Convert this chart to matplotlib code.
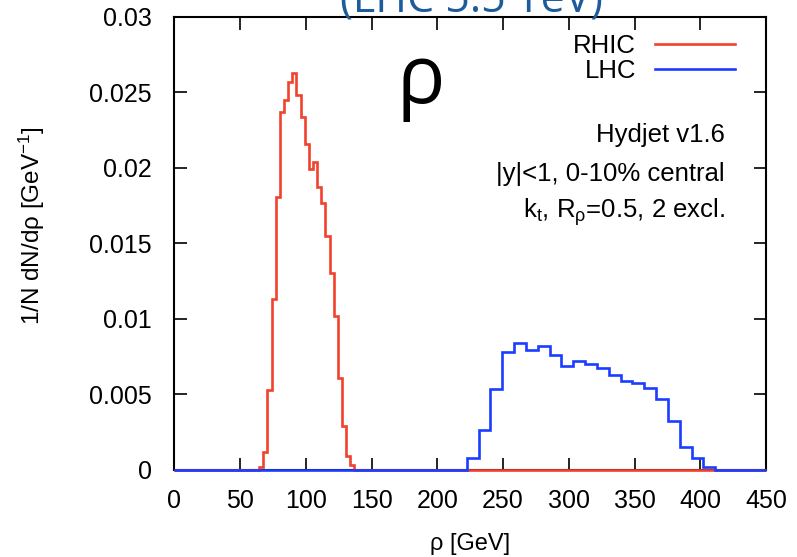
import matplotlib
matplotlib.use("Agg")
import matplotlib.pyplot as plt
import numpy as np

plt.rcParams["font.family"] = ["Liberation Sans", "DejaVu Sans"]
plt.rcParams["mathtext.fontset"] = "custom"
plt.rcParams["mathtext.rm"] = "Liberation Sans"
plt.rcParams["mathtext.it"] = "Liberation Sans:italic"

# RHIC histogram (bins)
rhic_start = 64.5
rhic_width = 3.15
rhic_vals = [0.0002, 0.0012, 0.0053, 0.0113, 0.0181, 0.0237, 0.0245, 0.0257,
             0.0263, 0.0248, 0.0234, 0.0216, 0.0199, 0.0204, 0.0187, 0.0177,
             0.0155, 0.0130, 0.0102, 0.0061, 0.0029, 0.0009, 0.0003]

# LHC histogram
lhc_start = 222.3
lhc_width = 9.0
lhc_vals = [0.00075, 0.00263, 0.00534, 0.00777, 0.0084, 0.00795, 0.00822,
            0.00762, 0.00689, 0.00718, 0.00702, 0.00673, 0.00629, 0.00584,
            0.00574, 0.0054, 0.00467, 0.00323, 0.00152, 0.00075, 0.0002]

x_ticks = [0, 50, 100, 150, 200, 250, 300, 350, 400, 450]
y_ticks = [0, 0.005, 0.01, 0.015, 0.02, 0.025, 0.03]
y_labels = ["0", "0.005", "0.01", "0.015", "0.02", "0.025", "0.03"]

red = "#f2412d"
blue = "#1b3dff"


def full_range(start, width, vals, lo=0, hi=450):
    edges = start + width * np.arange(len(vals) + 1)
    edges = np.concatenate([[lo], edges, [hi]])
    v = np.concatenate([[0], vals, [0]])
    return v, edges


fig = plt.figure(figsize=(7.97, 5.57), dpi=100)
ax = fig.add_axes([0.2186, 0.1569, 0.7428, 0.8126])

v, e = full_range(rhic_start, rhic_width, rhic_vals)
ax.stairs(v, e, color=red, lw=1.9, label="RHIC", zorder=3, clip_on=False)
v, e = full_range(lhc_start, lhc_width, lhc_vals)
ax.stairs(v, e, color=blue, lw=1.9, label="LHC", zorder=3, clip_on=False)

ax.set_xlim(0, 450)
ax.set_ylim(0, 0.03)
ax.set_xticks(x_ticks)
ax.set_yticks(y_ticks)
ax.set_yticklabels(y_labels)
ax.tick_params(direction="in", length=9, width=1.2, top=True, right=True,
               labelsize=18)
ax.tick_params(axis="y", pad=16)
ax.tick_params(axis="x", pad=14)
for s in ax.spines.values():
    s.set_linewidth(1.5)

ax.set_xlabel("ρ [GeV]", fontsize=17)
ax.set_ylabel("1/N dN/dρ [GeV$^{-1}$]", fontsize=17.5)
ax.xaxis.set_label_coords(0.5, -0.14)
ax.yaxis.set_label_coords(-0.215, 0.538)

ax.legend(loc="upper right", bbox_to_anchor=(0.947, 0.962), frameon=False,
          markerfirst=False, fontsize=18.5, handlelength=3.1, handletextpad=0.74,
          labelspacing=0.05, borderpad=0, borderaxespad=0)

ax.text(0.93, 0.723, "Hydjet v1.6", transform=ax.transAxes, ha="right",
        va="baseline", fontsize=18.5)
ax.text(0.93, 0.637, "|y|<1, 0-10% central", transform=ax.transAxes,
        ha="right", va="baseline", fontsize=18.5)
ax.text(0.93, 0.557, r"k$_\mathregular{t}$, R$_\mathregular{ρ}$=0.5, 2 excl.",
        transform=ax.transAxes, ha="right", va="baseline", fontsize=18.5)

# overlay labels from the slide
fig.text(421 / 797, 1 - 82 / 557, "ρ", fontsize=58, ha="center", va="center",
         family=["Open Sans", "DejaVu Sans"], color="black")
fig.text(471 / 797, 1 - 13 / 557, "(LHC 5.5 TeV)", fontsize=31, ha="center",
         va="baseline", family=["Open Sans", "DejaVu Sans"], color="#1d5c9c")

fig.savefig("out.png", dpi=100)
